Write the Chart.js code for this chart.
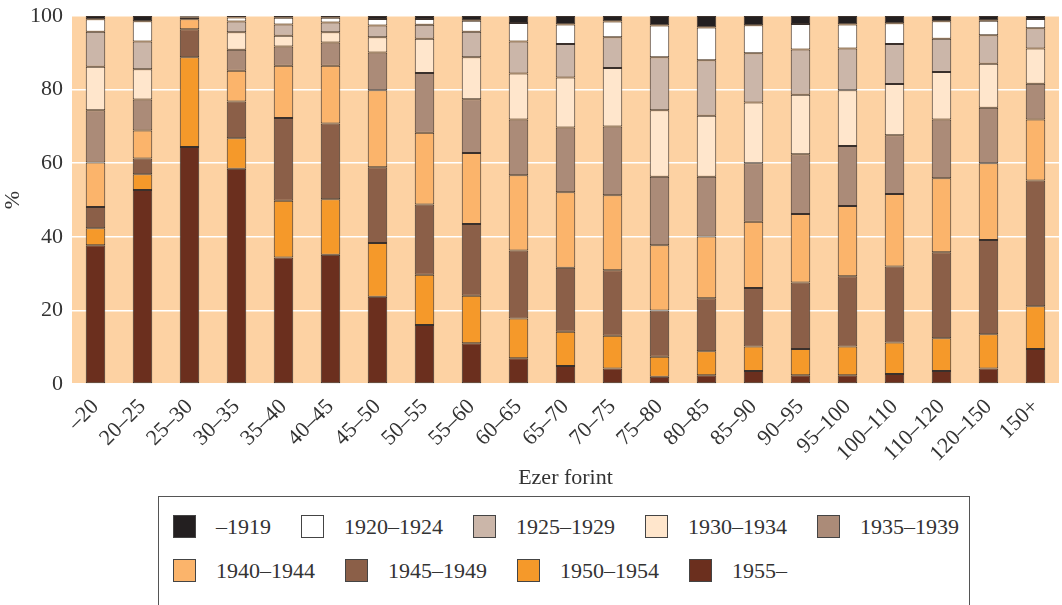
<!DOCTYPE html>
<html lang="hu">
<head>
<meta charset="utf-8">
<title>Ezer forint</title>
<script src="https://cdn.jsdelivr.net/npm/chart.js@4/dist/chart.umd.min.js"></script>
<style>
  body { margin: 0; background: #fff; width: 1062px; height: 605px; overflow: hidden; position: relative; }
  #doboz { position: absolute; left: 0; top: 0; width: 1062px; height: 495px; }
  #jelmagyarazat {
    position: absolute; left: 158px; top: 496px; width: 812px; height: 140px;
    border: 1.5px solid #555; box-sizing: border-box;
    padding: 18px 0 0 14px;
    display: flex; flex-wrap: wrap; column-gap: 30px; row-gap: 21px; align-content: flex-start;
    font-family: "Liberation Serif", serif; font-size: 22px; color: #333;
  }
  .elem { display: flex; align-items: center; height: 23px; }
  .negyzet { width: 23px; height: 23px; box-sizing: border-box; border: 1px solid #444; margin-right: 20px; }
</style>
</head>
<body>
<div id="doboz"><canvas id="grafikon"></canvas></div>
<div id="jelmagyarazat"></div>
<script>
// Jövedelemkategóriák (ezer forint)
const kategoriak = ['–20', '20–25', '25–30', '30–35', '35–40', '40–45', '45–50', '50–55', '55–60', '60–65',
  '65–70', '70–75', '75–80', '80–85', '85–90', '90–95', '95–100', '100–110', '110–120', '120–150', '150+'];

// Születési évek szerinti megoszlás, % (alulról felfelé)
const ev1955 = [37.7, 52.7, 64.4, 58.5, 34.4, 35.1, 23.7, 16.0, 11.1, 7.0, 4.9, 4.2, 2.0, 2.4, 3.5, 2.4, 2.4, 2.7, 3.5, 4.2, 9.5];
const ev1950 = [4.6, 4.3, 24.4, 8.3, 15.4, 15.1, 14.6, 13.7, 12.9, 10.8, 9.3, 8.9, 5.4, 6.5, 6.7, 7.1, 7.8, 8.6, 8.9, 9.3, 11.6];
const ev1945 = [5.8, 4.3, 7.6, 10.0, 22.5, 20.6, 20.6, 19.1, 19.5, 18.5, 17.4, 17.8, 12.6, 14.4, 15.9, 18.1, 19.1, 20.6, 23.4, 25.6, 34.2];
const ev1940 = [12.1, 7.6, 2.7, 8.3, 14.2, 15.7, 20.9, 19.5, 19.3, 20.4, 20.5, 20.4, 17.7, 16.8, 18.0, 18.6, 19.1, 19.7, 20.1, 20.9, 16.6];
const ev1935 = [14.2, 8.4, 0.4, 5.7, 5.2, 6.3, 10.3, 16.2, 14.6, 15.2, 17.6, 18.7, 18.6, 16.2, 15.9, 16.2, 16.3, 16.0, 16.0, 15.1, 9.7];
const ev1930 = [11.8, 8.2, 0.2, 4.8, 2.9, 2.8, 4.1, 9.3, 11.4, 12.5, 13.6, 15.9, 18.1, 16.6, 16.5, 16.2, 15.1, 13.9, 12.9, 11.9, 9.6];
const ev1925 = [9.5, 7.6, 0.2, 2.9, 3.1, 2.6, 3.2, 3.8, 6.9, 8.7, 9.1, 8.3, 14.4, 15.1, 13.4, 12.3, 11.4, 10.9, 9.0, 7.8, 5.5];
const ev1920 = [3.4, 5.5, 0.1, 1.1, 1.8, 1.3, 1.8, 1.6, 3.0, 5.0, 5.3, 4.3, 8.6, 8.9, 7.6, 6.9, 6.5, 5.6, 4.8, 3.9, 2.5];
const ev1919 = [0.9, 1.4, 0.0, 0.4, 0.5, 0.5, 0.8, 0.8, 1.3, 1.9, 2.3, 1.5, 2.6, 3.1, 2.5, 2.2, 2.3, 2.0, 1.4, 1.3, 0.8];

const yTickek = [0, 20, 40, 60, 80, 100];

// Sorozatok: címke, adatok, szín (a halmozás sorrendjében)
const sorozatok = [
  { nev: '1955–', adat: ev1955, szin: '#6b2f1e' },
  { nev: '1950–1954', adat: ev1950, szin: '#f5992a' },
  { nev: '1945–1949', adat: ev1945, szin: '#8b5f48' },
  { nev: '1940–1944', adat: ev1940, szin: '#fbb46b' },
  { nev: '1935–1939', adat: ev1935, szin: '#ab8b78' },
  { nev: '1930–1934', adat: ev1930, szin: '#ffe6cc' },
  { nev: '1925–1929', adat: ev1925, szin: '#cbb6a9' },
  { nev: '1920–1924', adat: ev1920, szin: '#ffffff' },
  { nev: '–1919', adat: ev1919, szin: '#231f20' }
];

document.addEventListener('DOMContentLoaded', function () {
  rajzolGrafikon();
  epitJelmagyarazat();
});

// Háttér a rajzterületen
const hatterPlugin = {
  id: 'hatter',
  beforeDraw(chart) {
    const { ctx, chartArea } = chart;
    ctx.save();
    ctx.fillStyle = '#fdd2a3';
    ctx.fillRect(chartArea.left, chartArea.top, chartArea.right - chartArea.left, chartArea.bottom - chartArea.top);
    ctx.restore();
  }
};

function rajzolGrafikon() {
  const betu = { family: '"Liberation Serif", serif', size: 22 };
  new Chart(document.getElementById('grafikon'), {
    type: 'bar',
    data: {
      labels: kategoriak,
      datasets: sorozatok.map(s => ({
        label: s.nev,
        data: s.adat,
        backgroundColor: s.szin,
        borderColor: '#3a302b',
        borderWidth: 1,
        borderSkipped: false,
        categoryPercentage: 1,
        barPercentage: 0.415
      }))
    },
    options: {
      responsive: true,
      maintainAspectRatio: false,
      animation: false,
      layout: { padding: { top: 16, right: 3, left: 0, bottom: 0 } },
      plugins: { legend: { display: false }, tooltip: { enabled: false } },
      scales: {
        x: {
          stacked: true,
          grid: { display: false },
          border: { display: false },
          ticks: { color: '#333', font: betu, minRotation: 45, maxRotation: 45, padding: 2 },
          title: { display: true, text: 'Ezer forint', color: '#333', font: betu, padding: { top: 0, bottom: 4 } },
          afterFit(scale) { scale.height = 111; scale.paddingLeft = 0; scale.paddingRight = 0; }
        },
        y: {
          stacked: true,
          min: 0,
          max: 100,
          afterBuildTicks(scale) { scale.ticks = yTickek.map(v => ({ value: v })); },
          grid: { color: '#ffffff', lineWidth: 1.5, drawTicks: false },
          border: { display: false },
          ticks: { color: '#333', font: betu, padding: 9 },
          title: { display: true, text: '%', color: '#333', font: betu, padding: 0 },
          afterFit(scale) { scale.width = 72; scale.paddingTop = 0; scale.paddingBottom = 0; }
        }
      }
    },
    plugins: [hatterPlugin]
  });
}

// Jelmagyarázat a felső sorozattól lefelé
function epitJelmagyarazat() {
  const doboz = document.getElementById('jelmagyarazat');
  sorozatok.slice().reverse().forEach(s => {
    const elem = document.createElement('div');
    elem.className = 'elem';
    const negyzet = document.createElement('span');
    negyzet.className = 'negyzet';
    negyzet.style.background = s.szin;
    const szoveg = document.createElement('span');
    szoveg.textContent = s.nev;
    elem.appendChild(negyzet);
    elem.appendChild(szoveg);
    doboz.appendChild(elem);
  });
}
</script>
</body>
</html>
